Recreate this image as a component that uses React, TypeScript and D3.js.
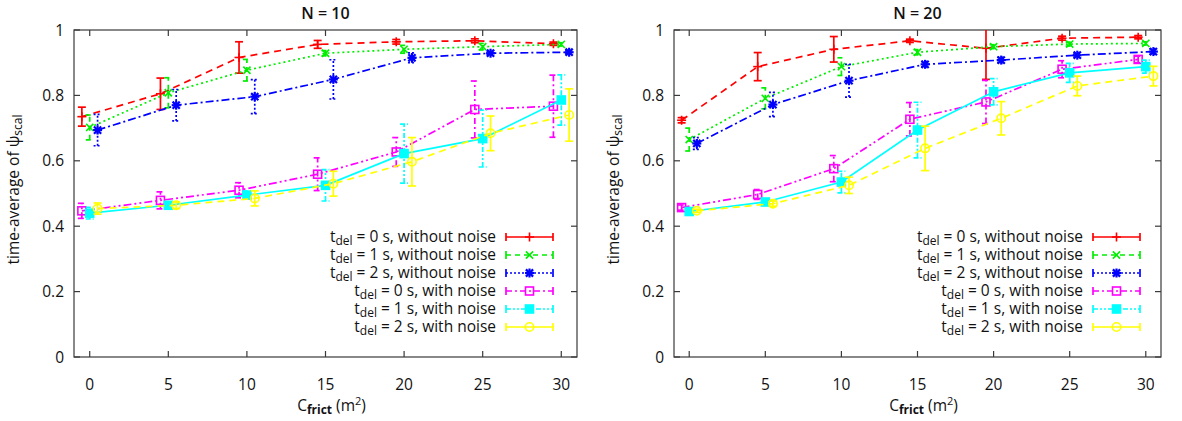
import { useEffect, useRef } from "react";
import * as d3 from "d3";

// friction coefficient values on the x axis
const frictValues = [0, 5, 10, 15, 20, 25, 30];
const yTicks = [0, 0.2, 0.4, 0.6, 0.8, 1];

// N = 10
const n10Del0Clean = [0.735, 0.805, 0.916, 0.956, 0.964, 0.967, 0.958];
const n10Del0CleanErr = [0.029, 0.048, 0.048, 0.012, 0.007, 0.006, 0.005];
const n10Del1Clean = [0.702, 0.808, 0.877, 0.929, 0.941, 0.949, 0.956];
const n10Del1CleanErr = [0.038, 0.046, 0.033, 0.008, 0.012, 0.01, 0.005];
const n10Del2Clean = [0.694, 0.77, 0.796, 0.849, 0.915, 0.929, 0.932];
const n10Del2CleanErr = [0.048, 0.048, 0.052, 0.06, 0.015, 0.005, 0.005];
const n10Del0Noise = [0.447, 0.479, 0.51, 0.559, 0.627, 0.757, 0.767];
const n10Del0NoiseErr = [0.023, 0.026, 0.023, 0.05, 0.044, 0.087, 0.095];
const n10Del1Noise = [0.44, 0.464, 0.495, 0.525, 0.622, 0.668, 0.786];
const n10Del1NoiseErr = [0.018, 0.01, 0.012, 0.048, 0.09, 0.087, 0.077];
const n10Del2Noise = [0.454, 0.464, 0.485, 0.53, 0.597, 0.684, 0.74];
const n10Del2NoiseErr = [0.017, 0.01, 0.023, 0.038, 0.074, 0.053, 0.08];

// N = 20
const n20Del0Clean = [0.724, 0.888, 0.941, 0.967, 0.944, 0.975, 0.978];
const n20Del0CleanErr = [0.008, 0.043, 0.039, 0.005, 0.095, 0.006, 0.005];
const n20Del1Clean = [0.665, 0.791, 0.888, 0.932, 0.949, 0.957, 0.959];
const n20Del1CleanErr = [0.035, 0.032, 0.027, 0.008, 0.006, 0.006, 0.005];
const n20Del2Clean = [0.653, 0.772, 0.845, 0.895, 0.908, 0.923, 0.934];
const n20Del2CleanErr = [0.018, 0.037, 0.05, 0.008, 0.008, 0.006, 0.008];
const n20Del0Noise = [0.457, 0.497, 0.576, 0.727, 0.78, 0.88, 0.91];
const n20Del0NoiseErr = [0.008, 0.015, 0.04, 0.051, 0.066, 0.026, 0.01];
const n20Del1Noise = [0.445, 0.474, 0.535, 0.694, 0.811, 0.869, 0.888];
const n20Del1NoiseErr = [0.006, 0.008, 0.033, 0.085, 0.04, 0.029, 0.02];
const n20Del2Noise = [0.447, 0.469, 0.525, 0.638, 0.73, 0.829, 0.859];
const n20Del2NoiseErr = [0.005, 0.008, 0.025, 0.068, 0.051, 0.03, 0.03];

const seriesLabels = [
  ["0", "without noise"],
  ["1", "without noise"],
  ["2", "without noise"],
  ["0", "with noise"],
  ["1", "with noise"],
  ["2", "with noise"],
];

// gnuplot-like styles: line dash, errorbar dash, marker
const styles = [
  { color: "#ff0000", line: "7,5", bar: null, marker: "plus", dx: -0.5 },
  { color: "#00ee00", line: "2,3", bar: "5,4", marker: "cross", dx: 0 },
  { color: "#0000ff", line: "8,3,2,3", bar: "2,2", marker: "star", dx: 0.5 },
  { color: "#ff00ff", line: "8,3,2,3,2,3", bar: "6,3,2,3", marker: "box", dx: -0.5 },
  { color: "#00ffff", line: null, bar: "5,2,2,2,2,2", marker: "fbox", dx: 0 },
  { color: "#ffff00", line: "7,5", bar: null, marker: "circle", dx: 0.5 },
];

const panels = [
  {
    title: "N = 10",
    left: 74,
    right: 577,
    legendX: 496,
    means: [n10Del0Clean, n10Del1Clean, n10Del2Clean, n10Del0Noise, n10Del1Noise, n10Del2Noise],
    errs: [n10Del0CleanErr, n10Del1CleanErr, n10Del2CleanErr, n10Del0NoiseErr, n10Del1NoiseErr, n10Del2NoiseErr],
  },
  {
    title: "N = 20",
    left: 674,
    right: 1161,
    legendX: 1083,
    means: [n20Del0Clean, n20Del1Clean, n20Del2Clean, n20Del0Noise, n20Del1Noise, n20Del2Noise],
    errs: [n20Del0CleanErr, n20Del1CleanErr, n20Del2CleanErr, n20Del0NoiseErr, n20Del1NoiseErr, n20Del2NoiseErr],
  },
];

const W = 1182;
const H = 421;
const TOP = 30;
const BOTTOM = 357;
const FONT = "'Open Sans', 'DejaVu Sans', sans-serif";
const FRAME = "#3a3a3a";
const FS = 15.5;

function drawMarker(g, kind, x, y, color) {
  const s = 4.5;
  const line = (x1, y1, x2, y2) =>
    g.append("line").attr("x1", x1).attr("y1", y1).attr("x2", x2).attr("y2", y2)
      .attr("stroke", color).attr("stroke-width", kind === "star" ? 2.2 : 1.6);
  if (kind === "plus" || kind === "star") {
    line(x - s, y, x + s, y);
    line(x, y - s, x, y + s);
  }
  if (kind === "cross" || kind === "star") {
    line(x - s * 0.8, y - s * 0.8, x + s * 0.8, y + s * 0.8);
    line(x - s * 0.8, y + s * 0.8, x + s * 0.8, y - s * 0.8);
  }
  if (kind === "box" || kind === "fbox") {
    g.append("rect").attr("x", x - 4).attr("y", y - 4).attr("width", 8).attr("height", 8)
      .attr("fill", kind === "fbox" ? color : "none").attr("stroke", color).attr("stroke-width", 1.6);
  }
  if (kind === "circle") {
    g.append("circle").attr("cx", x).attr("cy", y).attr("r", 4.2)
      .attr("fill", "none").attr("stroke", color).attr("stroke-width", 1.6);
  }
}

const App = () => {
  const ref = useRef(null);

  useEffect(() => {
    const svg = d3.select(ref.current);
    svg.selectAll("*").remove();

    panels.forEach((p, pi) => {
      const x = d3.scaleLinear().domain([-1, 31]).range([p.left, p.right]);
      const y = d3.scaleLinear().domain([0, 1]).range([BOTTOM, TOP]);
      const g = svg.append("g");
      const clipId = `clip-${pi}`;
      g.append("clipPath").attr("id", clipId).append("rect")
        .attr("x", p.left).attr("y", TOP).attr("width", p.right - p.left).attr("height", BOTTOM - TOP);

      // frame and mirrored inward ticks
      g.append("rect").attr("x", p.left).attr("y", TOP).attr("width", p.right - p.left)
        .attr("height", BOTTOM - TOP).attr("fill", "none").attr("stroke", FRAME).attr("stroke-width", 1.2);
      const tl = 6;
      frictValues.forEach((v) => {
        g.append("line").attr("x1", x(v)).attr("x2", x(v)).attr("y1", BOTTOM).attr("y2", BOTTOM - tl)
          .attr("stroke", FRAME).attr("stroke-width", 1.2);
        g.append("line").attr("x1", x(v)).attr("x2", x(v)).attr("y1", TOP).attr("y2", TOP + tl)
          .attr("stroke", FRAME).attr("stroke-width", 1.2);
        g.append("text").attr("x", x(v)).attr("y", 390).attr("text-anchor", "middle")
          .attr("font-family", FONT).attr("font-size", FS).attr("fill", "#111").text(v);
      });
      yTicks.forEach((v) => {
        g.append("line").attr("x1", p.left).attr("x2", p.left + tl).attr("y1", y(v)).attr("y2", y(v))
          .attr("stroke", FRAME).attr("stroke-width", 1.2);
        g.append("line").attr("x1", p.right).attr("x2", p.right - tl).attr("y1", y(v)).attr("y2", y(v))
          .attr("stroke", FRAME).attr("stroke-width", 1.2);
        g.append("text").attr("x", p.left - 10).attr("y", y(v) + 5.5).attr("text-anchor", "end")
          .attr("font-family", FONT).attr("font-size", FS).attr("fill", "#111").text(d3.format("~g")(v));
      });

      // title
      g.append("text").attr("x", (p.left + p.right) / 2).attr("y", 19).attr("text-anchor", "middle")
        .attr("font-family", FONT).attr("font-size", 16).attr("font-weight", 600).attr("fill", "#111")
        .text(p.title);

      // x label
      const xl = g.append("text").attr("x", (p.left + p.right) / 2 + 6).attr("y", 411)
        .attr("text-anchor", "middle").attr("font-family", FONT).attr("font-size", FS).attr("fill", "#111");
      xl.append("tspan").text("C");
      xl.append("tspan").attr("dy", 3).attr("font-size", 12).attr("font-weight", 700).text("frict");
      xl.append("tspan").attr("dy", -3).text(" (m");
      xl.append("tspan").attr("dy", -6).attr("font-size", 11).text("2");
      xl.append("tspan").attr("dy", 6).text(")");

      // y label
      const yl = g.append("text")
        .attr("transform", `translate(${p.left - 55},${(TOP + BOTTOM) / 2 - 4}) rotate(-90)`)
        .attr("text-anchor", "middle").attr("font-family", FONT).attr("font-size", FS).attr("fill", "#111");
      yl.append("tspan").text("time-average of ψ");
      yl.append("tspan").attr("dy", 3).attr("font-size", 12).text("scal");

      // series
      const plot = g.append("g").attr("clip-path", `url(#${clipId})`);
      styles.forEach((st, si) => {
        const pts = frictValues.map((f, i) => ({ fx: f + st.dx, m: p.means[si][i], e: p.errs[si][i] }));
        const lineGen = d3.line().x((d) => x(d.fx)).y((d) => y(d.m));
        plot.append("path").attr("d", lineGen(pts)).attr("fill", "none").attr("stroke", st.color)
          .attr("stroke-width", 1.7).attr("stroke-dasharray", st.line);
        pts.forEach((d) => {
          const cx = x(d.fx);
          const bars = [
            [cx, y(d.m - d.e), cx, y(d.m + d.e)],
            [cx - 4, y(d.m - d.e), cx + 4, y(d.m - d.e)],
            [cx - 4, y(d.m + d.e), cx + 4, y(d.m + d.e)],
          ];
          bars.forEach(([x1, y1, x2, y2]) => {
            plot.append("line").attr("x1", x1).attr("y1", y1).attr("x2", x2).attr("y2", y2)
              .attr("stroke", st.color).attr("stroke-width", 1.7).attr("stroke-dasharray", st.bar);
          });
          drawMarker(plot, st.marker, cx, y(d.m), st.color);
        });
      });

      // legend
      seriesLabels.forEach(([del, noise], si) => {
        const st = styles[si];
        const ly = 237 + si * 18;
        const t = g.append("text").attr("x", p.legendX).attr("y", ly + 5).attr("text-anchor", "end")
          .attr("font-family", FONT).attr("font-size", FS).attr("fill", "#111");
        t.append("tspan").text("t");
        t.append("tspan").attr("dy", 3).attr("font-size", 12).text("del");
        t.append("tspan").attr("dy", -3).text(` = ${del} s, ${noise}`);
        const x1 = p.legendX + 10;
        const x2 = p.legendX + 57;
        const lg = g.append("g");
        lg.append("line").attr("x1", x1).attr("x2", x2).attr("y1", ly).attr("y2", ly)
          .attr("stroke", st.color).attr("stroke-width", 1.7).attr("stroke-dasharray", st.bar);
        [x1, x2].forEach((xx) => {
          lg.append("line").attr("x1", xx).attr("x2", xx).attr("y1", ly - 4).attr("y2", ly + 4)
            .attr("stroke", st.color).attr("stroke-width", 1.7);
        });
        drawMarker(lg, st.marker, (x1 + x2) / 2, ly, st.color);
      });
    });
  }, []);

  return (
    <svg
      ref={ref}
      width={W}
      height={H}
      style={{ position: "absolute", left: 0, top: 0, background: "#fff" }}
    />
  );
};

export default App;
